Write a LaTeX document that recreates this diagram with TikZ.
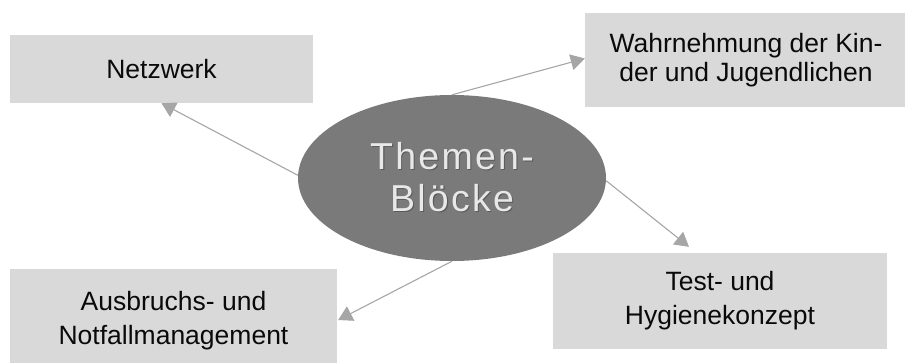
\documentclass[tikz,border=0pt]{standalone}
\usepackage{fontspec}
\setmainfont{Liberation Sans}
\usetikzlibrary{arrows.meta,shapes.geometric,calc}
\definecolor{boxgray}{HTML}{D9D9D9}
\definecolor{ellgray}{HTML}{7A7A7A}
\definecolor{linegray}{HTML}{A6A6A6}
\definecolor{elltext}{HTML}{E8E8E8}
\definecolor{shadowtext}{HTML}{5A5A5A}
\definecolor{boxtext}{HTML}{0A0A0A}
\newcommand\shadowed[1]{\makebox[0pt][l]{\kern1.1pt\raisebox{-1.1pt}{\textcolor{shadowtext}{#1}}}#1}
\tikzset{
  topicbox/.style={rectangle, fill=boxgray, draw=none, inner sep=0pt,
    align=center, text=boxtext, font=\fontsize{26.5}{34}\selectfont},
  centreell/.style={ellipse, fill=ellgray, draw=none, inner sep=0pt,
    minimum width=308pt, minimum height=166pt, align=center, text=elltext,
    font=\fontsize{37.5}{42}\selectfont\addfontfeature{LetterSpace=6}},
  conn/.style={draw=linegray, line width=1.1pt,
    -{Triangle[length=14pt,width=16pt,fill=linegray]}},
}
\begin{document}
\begin{tikzpicture}[x=1pt,y=-1pt]
\clip (0,0) rectangle (905,362);
\fill[white] (0,0) rectangle (905,362);

\node[topicbox, minimum width=303pt, minimum height=68pt] (nw) at (161.5,69) {Netzwerk};
\node[topicbox, minimum width=322pt, minimum height=94pt,
      font=\fontsize{26.5}{29}\selectfont] (wj) at (746,60)
      {Wahrnehmung der Kin-\\der und Jugendlichen};
\node[topicbox, minimum width=334pt, minimum height=96pt] (tk) at (720,301)
      {Test- und\\Hygienekonzept};
\node[topicbox, minimum width=327pt, minimum height=104pt] (ab) at (173.5,321)
      {Ausbruchs- und\\Notfallmanagement};

\node[centreell] (th) at (452,178) {\shadowed{Themen-}\\\shadowed{Blöcke}};

\draw[conn] (th.179) -- (nw.south);
\draw[conn] (th.north) -- ($(wj.west)+(0,-1.5)$);
\draw[conn] (th.-1) -- ($(tk.north)+(-31,-6)$);
\draw[conn] (th.south) -- ($(ab.east)+(1,-1)$);
\end{tikzpicture}
\end{document}
